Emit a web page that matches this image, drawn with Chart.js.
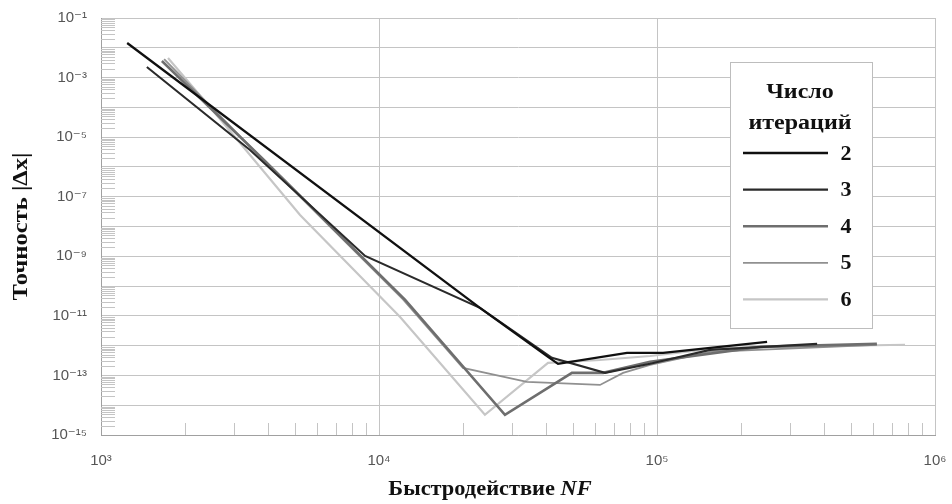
<!DOCTYPE html>
<html><head><meta charset="utf-8">
<script src="https://cdn.jsdelivr.net/npm/chart.js@4/dist/chart.umd.min.js"></script>
<style>html,body{margin:0;padding:0;background:#fff}#wrap{width:952px;height:504px}</style>
</head><body><div id="wrap"><canvas id="c" width="952" height="504"></canvas></div>
<script>
// Number of iterations (series labels)
const iterations = ['2', '3', '4', '5', '6'];
// NF (x) and |Δx| (y) values for each series
const nf2  = [1242, 23070, 40550, 44060, 77980, 105200, 248900];
const acc2 = [1.45e-2, 1.85e-11, 4.2e-13, 2.45e-13, 5.7e-13, 5.7e-13, 1.34e-12];
const nf3  = [1462, 3436, 8913, 23070, 41880, 65010, 94410, 155200, 376700];
const acc3 = [2.27e-3, 3.72e-6, 1.03e-9, 1.85e-11, 3.9e-13, 1.22e-13, 2.45e-13, 7.2e-13, 1.15e-12];
const nf4  = [1656, 3954, 12420, 28380, 49430, 63970, 94410, 235000, 618000];
const acc4 = [3.6e-3, 1.36e-6, 3.44e-11, 4.76e-15, 1.22e-13, 1.22e-13, 2.86e-13, 9.1e-13, 1.15e-12];
const nf5  = [1687, 3954, 12200, 20040, 34040, 62370, 75510, 94410, 155200, 618000];
const acc5 = [4.2e-3, 1.3e-6, 3.6e-11, 1.8e-13, 6.1e-14, 4.8e-14, 1.22e-13, 2.27e-13, 6.2e-13, 1.06e-12];
const nf6  = [1742, 2570, 5200, 11910, 24040, 40550, 62370, 94410, 168600, 780000];
const acc6 = [4.55e-3, 6.5e-5, 2.45e-8, 9.2e-12, 4.76e-15, 2.65e-13, 3.3e-13, 4.5e-13, 8.4e-13, 1.07e-12];
// Tick labels
const xTickExps = [3, 4, 5, 6];
const yTickExps = [-15, -14, -13, -12, -11, -10, -9, -8, -7, -6, -5, -4, -3, -2, -1];
const yTitle = 'Точность |Δx|';
const xTitleMain = 'Быстродействие ';
const xTitleItalic = 'NF';
const legendTitle = ['Число', 'итераций'];

const SUP = {'0':'⁰','1':'¹','2':'²','3':'³','4':'⁴','5':'⁵','6':'⁶','7':'⁷','8':'⁸','9':'⁹','-':'⁻'};
const pow10 = e => '10' + String(e).split('').map(c => SUP[c]).join('');
const pts = (xs, ys) => xs.map((v, i) => ({x: v, y: ys[i]}));

const seriesData = [pts(nf2, acc2), pts(nf3, acc3), pts(nf4, acc4), pts(nf5, acc5), pts(nf6, acc6)];
const colors = ['#101010', '#2a2a2a', '#6e6e6e', '#909090', '#c6c6c6'];
const widths = [2.3, 2.1, 2.6, 1.8, 2.2];

const serif = '"Liberation Serif", "DejaVu Serif", serif';
const sans = '"Liberation Sans", "DejaVu Sans", Arial, sans-serif';

const extras = {
  id: 'extras',
  beforeDatasetsDraw(chart) {
    const {ctx, chartArea: a, scales: {x, y}} = chart;
    ctx.save();
    ctx.strokeStyle = '#c4c4c4';
    ctx.lineWidth = 1;
    ctx.beginPath();
    for (let e = -15; e < -1; e++) {
      for (let m = 2; m <= 9; m++) {
        const py = Math.round(y.getPixelForValue(m * Math.pow(10, e))) + 0.5;
        ctx.moveTo(a.left, py); ctx.lineTo(a.left + 14, py);
      }
    }
    for (let e = 3; e < 6; e++) {
      for (let m = 2; m <= 9; m++) {
        const px = Math.round(x.getPixelForValue(m * Math.pow(10, e))) + 0.5;
        ctx.moveTo(px, a.bottom); ctx.lineTo(px, a.bottom - 12);
      }
    }
    ctx.stroke();
    ctx.restore();
  },
  afterDraw(chart) {
    const {ctx, chartArea: a} = chart;
    ctx.save();
    // Y title
    ctx.fillStyle = '#111';
    ctx.font = 'bold 21px ' + serif;
    ctx.textAlign = 'center';
    ctx.textBaseline = 'middle';
    ctx.translate(22, (a.top + a.bottom) / 2);
    ctx.rotate(-Math.PI / 2);
    ctx.scale(1.17, 1);
    ctx.fillText(yTitle, 0, 0);
    ctx.restore();

    // X title
    ctx.save();
    ctx.fillStyle = '#111';
    ctx.textBaseline = 'middle';
    const sx = 1.12;
    ctx.font = 'bold 20px ' + serif;
    const w1 = ctx.measureText(xTitleMain).width;
    ctx.font = 'bold italic 20px ' + serif;
    const w2 = ctx.measureText(xTitleItalic).width;
    const cx = 490;
    ctx.translate(cx - (w1 + w2) * sx / 2, 490);
    ctx.scale(sx, 1);
    ctx.textAlign = 'left';
    ctx.font = 'bold 20px ' + serif;
    ctx.fillText(xTitleMain, 0, 0);
    ctx.font = 'bold italic 20px ' + serif;
    ctx.fillText(xTitleItalic, w1, 0);
    ctx.restore();

    // Legend box
    ctx.save();
    const bx = 730.5, by = 62.5, bw = 142, bh = 266;
    ctx.fillStyle = '#fff';
    ctx.fillRect(bx, by, bw, bh);
    ctx.strokeStyle = '#bdbdbd';
    ctx.lineWidth = 1;
    ctx.strokeRect(bx, by, bw, bh);
    ctx.fillStyle = '#111';
    ctx.textAlign = 'center';
    ctx.textBaseline = 'middle';
    ctx.font = 'bold 20px ' + serif;
    const tcx = 800;
    [[legendTitle[0], 93], [legendTitle[1], 124]].forEach(([t, ty]) => {
      ctx.save(); ctx.translate(tcx, ty); ctx.scale(1.2, 1); ctx.fillText(t, 0, 0); ctx.restore();
    });
    chart.data.datasets.forEach((ds, i) => {
      const ly = 153 + i * 36.6;
      ctx.strokeStyle = ds.borderColor;
      ctx.lineWidth = ds.borderWidth;
      ctx.beginPath(); ctx.moveTo(743, ly); ctx.lineTo(828, ly); ctx.stroke();
      ctx.font = 'bold 22px ' + serif;
      ctx.fillStyle = '#111';
      ctx.fillText(ds.label, 846, ly + 1);
    });
    ctx.restore();
  }
};

new Chart(document.getElementById('c'), {
  type: 'line',
  data: {
    datasets: iterations.map((lab, i) => ({
      label: lab,
      data: seriesData[i],
      borderColor: colors[i],
      borderWidth: widths[i],
      pointRadius: 0,
      tension: 0,
      fill: false
    }))
  },
  options: {
    responsive: false,
    animation: false,
    devicePixelRatio: 1,
    layout: {padding: {left: 0, right: 17, top: 18, bottom: 0}},
    plugins: {legend: {display: false}, tooltip: {enabled: false}},
    scales: {
      x: {
        type: 'logarithmic',
        min: 1e3, max: 1e6,
        afterBuildTicks: s => { s.ticks = xTickExps.map(e => ({value: Math.pow(10, e)})); },
        afterFit: s => { s.height = 69; s.paddingLeft = 0; s.paddingRight = 0; },
        ticks: {
          callback: v => pow10(Math.round(Math.log10(v))),
          color: '#555', font: {family: sans, size: 15}, padding: 17, maxRotation: 0, autoSkip: false
        },
        grid: {color: '#c4c4c4', lineWidth: 1, drawTicks: false},
        border: {color: '#a0a0a0'}
      },
      y: {
        type: 'logarithmic',
        min: 1e-15, max: 1e-1,
        afterBuildTicks: s => { s.ticks = yTickExps.map(e => ({value: Math.pow(10, e)})); },
        afterFit: s => { s.width = 101; s.paddingTop = 0; s.paddingBottom = 0; },
        ticks: {
          callback: v => { const e = Math.round(Math.log10(v)); return (e % 2 !== 0) ? pow10(e) : ''; },
          color: '#555', font: {family: sans, size: 15}, padding: 14, autoSkip: false
        },
        grid: {color: '#c4c4c4', lineWidth: 1, drawTicks: false},
        border: {color: '#a0a0a0'}
      }
    }
  },
  plugins: [extras]
});
</script></body></html>
